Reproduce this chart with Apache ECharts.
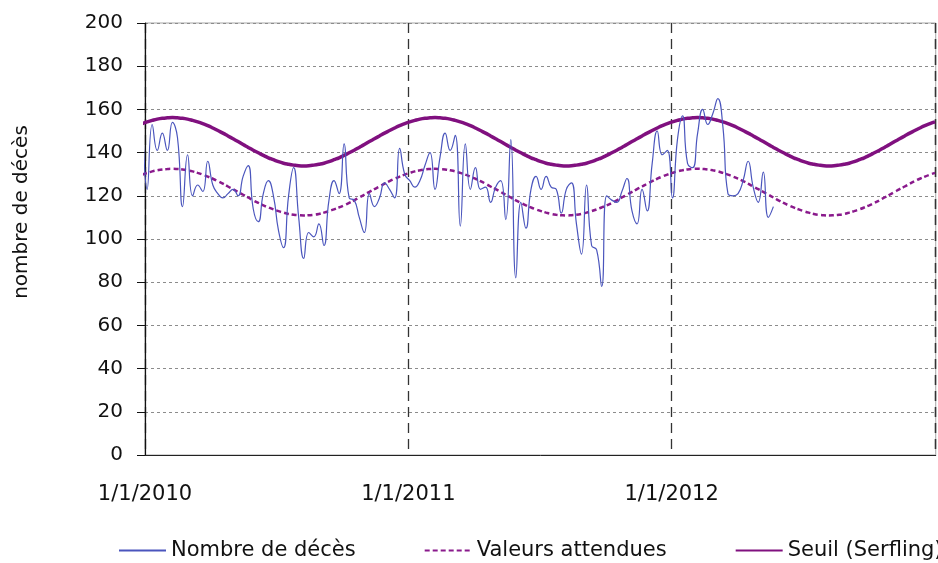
<!DOCTYPE html>
<html>
<head>
<meta charset="utf-8">
<title>Nombre de décès</title>
<script src="https://cdn.jsdelivr.net/npm/echarts@6/dist/echarts.min.js"></script>
<style>
html,body{margin:0;padding:0;background:#fff;}
#chart{width:938px;height:563px;}
</style>
</head>
<body>
<div id="chart"></div>
<script>
// semaines : lundi, en jours depuis le 1/1/2010 (premier point = 28/12/2009)
var premierJour = -4;
var nbSemaines = 158;
var jours = [];
for (var i = 0; i < nbSemaines; i++) { jours.push(premierJour + 7 * i); }

var ticks = { 0: '1/1/2010', 365: '1/1/2011', 730: '1/1/2012' };

/*nombre de deces hebdo*/
var deces = [160,
  123,153,141,149,141,154,147,115,139,120,125,122,136,125,121,119,121,123,120,129,
  134,114,108,121,127,120,104,96,120,133,110,91,103,101,107,97,118,127,121,144,
  119,118,110,103,121,115,119,126,123,119,142,130,127,124,127,134,140,123,138,149,
  141,148,106,144,123,133,123,124,117,124,127,109,146,82,117,105,123,129,123,129,
  124,123,112,123,126,107,93,125,97,95,78,120,118,117,122,128,113,107,123,113,
  135,150,139,141,119,146,157,135,133,149,160,153,158,165,152,121,120,121,127,136,
  124,117,131,110,115];

/*valeurs attendues*/
var attendues = [129.8,130.6,131.3,131.8,132.2,132.4,
  132.5,132.4,132.2,131.8,131.3,130.6,129.8,128.9,127.9,126.8,125.6,124.3,123.1,121.8,120.5,119.2,117.9,116.7,115.6,114.6,113.7,112.9,112.2,111.6,111.2,111.0,
  110.9,111.0,111.2,111.6,112.2,112.9,113.7,114.6,115.6,116.7,117.9,119.2,120.5,121.8,123.1,124.3,125.6,126.8,127.9,128.9,129.8,130.6,131.3,131.8,132.2,132.4,
  132.5,132.4,132.2,131.8,131.3,130.6,129.8,128.9,127.9,126.8,125.6,124.3,123.1,121.8,120.5,119.2,117.9,116.7,115.6,114.6,113.7,112.9,112.2,111.6,111.2,111.0,
  110.9,111.0,111.2,111.6,112.2,112.9,113.7,114.6,115.6,116.7,117.9,119.2,120.5,121.8,123.1,124.3,125.6,126.8,127.9,128.9,129.8,130.6,131.3,131.8,132.2,132.4,
  132.5,132.4,132.2,131.8,131.3,130.6,129.8,128.9,127.9,126.8,125.6,124.3,123.1,121.8,120.5,119.2,117.9,116.7,115.6,114.6,113.7,112.9,112.2,111.6,111.2,111.0,
  110.9,111.0,111.2,111.6,112.2,112.9,113.7,114.6,115.6,116.7,117.9,119.2,120.5,121.8,123.1,124.3,125.6,126.8,127.9,128.9,129.8,130.6];

/*seuil serfling*/
var seuil = [153.4,154.2,154.9,155.5,155.9,156.1,
  156.2,156.1,155.9,155.5,154.9,154.2,153.4,152.5,151.4,150.2,149.0,147.7,146.4,145.1,143.7,142.4,141.1,139.9,138.7,137.6,136.7,135.8,135.1,134.6,134.2,133.9,
  133.8,133.9,134.2,134.6,135.1,135.8,136.7,137.6,138.7,139.9,141.1,142.4,143.7,145.1,146.4,147.7,149.0,150.2,151.4,152.5,153.4,154.2,154.9,155.5,155.9,156.1,
  156.2,156.1,155.9,155.5,154.9,154.2,153.4,152.5,151.4,150.2,149.0,147.7,146.4,145.1,143.7,142.4,141.1,139.9,138.7,137.6,136.7,135.8,135.1,134.6,134.2,133.9,
  133.8,133.9,134.2,134.6,135.1,135.8,136.7,137.6,138.7,139.9,141.1,142.4,143.7,145.1,146.4,147.7,149.0,150.2,151.4,152.5,153.4,154.2,154.9,155.5,155.9,156.1,
  156.2,156.1,155.9,155.5,154.9,154.2,153.4,152.5,151.4,150.2,149.0,147.7,146.4,145.1,143.7,142.4,141.1,139.9,138.7,137.6,136.7,135.8,135.1,134.6,134.2,133.9,
  133.8,133.9,134.2,134.6,135.1,135.8,136.7,137.6,138.7,139.9,141.1,142.4,143.7,145.1,146.4,147.7,149.0,150.2,151.4,152.5,153.4,154.2];

function paires(vals){
  var out = [];
  for (var i = 0; i < vals.length; i++) { out.push([jours[i], vals[i]]); }
  return out;
}

var font = 'DejaVu Sans';
var myChart = echarts.init(document.getElementById('chart'));
myChart.setOption({
  animation: false,
  textStyle: { fontFamily: font },
  grid: {
    left: 145, right: 1, top: 23, bottom: 108,
    show: true, borderColor: '#a6a6a6', borderWidth: 1, backgroundColor: 'transparent'
  },
  legend: {
    left: 118, top: 540, width: 900, padding: 0,
    itemWidth: 47, itemHeight: 14, itemGap: 68,
    itemStyle: { opacity: 0 },
    textStyle: { fontSize: 21, color: '#111', fontFamily: font },
    data: ['Nombre de décès', 'Valeurs attendues', 'Seuil (Serfling)']
  },
  xAxis: {
    type: 'value', min: 0, max: 1096, interval: 365,
    axisLine: { show: true, lineStyle: { color: '#222', width: 1 } },
    axisTick: { show: false },
    axisLabel: {
      margin: 29, fontSize: 21, color: '#111', fontFamily: font,
      showMaxLabel: false,
      formatter: function (v) { return ticks[v] || ''; }
    },
    splitLine: { show: true, lineStyle: { color: '#333', width: 1.3, type: [10, 6] } }
  },
  yAxis: {
    type: 'value', min: 0, max: 200, interval: 20,
    axisLine: { show: true, lineStyle: { color: '#111', width: 1.2 } },
    axisTick: { show: true, length: 8, lineStyle: { color: '#111' } },
    axisLabel: { margin: 22, fontSize: 20, color: '#111', fontFamily: font },
    splitLine: { show: true, lineStyle: { color: '#8c8c8c', width: 1, type: [3, 3] } }
  },
  graphic: [{
    type: 'text', x: 22, y: 212, rotation: Math.PI / 2,
    style: { text: 'nombre de décès', fontSize: 20, fontFamily: font, fill: '#111',
      textAlign: 'center', textVerticalAlign: 'middle' }
  }],
  series: [{
    name: 'Nombre de décès', type: 'line', data: paires(deces),
    smooth: 0.5, symbol: 'none', clip: true, z: 3,
    lineStyle: { color: '#4a55bd', width: 1.2 }, itemStyle: { color: '#4a55bd' }
  }, {
    name: 'Valeurs attendues', type: 'line', data: paires(attendues),
    smooth: true, symbol: 'none', clip: true, z: 2,
    lineStyle: { color: '#8a1a8c', width: 2.5, type: [5, 3] }, itemStyle: { color: '#8a1a8c' }
  }, {
    name: 'Seuil (Serfling)', type: 'line', data: paires(seuil),
    smooth: true, symbol: 'none', clip: true, z: 2,
    lineStyle: { color: '#80107f', width: 3.5 }, itemStyle: { color: '#80107f' }
  }]
});
</script>
</body>
</html>
